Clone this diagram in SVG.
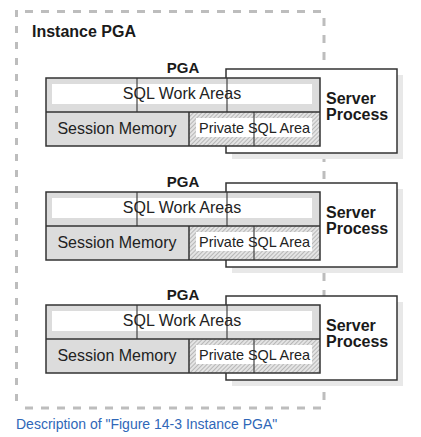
<svg xmlns="http://www.w3.org/2000/svg" width="421" height="437" viewBox="0 0 421 437">
<defs>
<pattern id="hatch" width="3" height="3" patternUnits="userSpaceOnUse" patternTransform="rotate(45)">
<rect width="3" height="3" fill="#e4e4e4"/>
<line x1="0" y1="0" x2="0" y2="3" stroke="#8a8a8a" stroke-width="1"/>
</pattern>
</defs>
<style>
.dash{stroke:#bdbdbd;stroke-width:3;fill:none}
.ln{stroke:#333;stroke-width:1.5;fill:none}
.sp{stroke:#333;stroke-width:1.5;fill:#fff}
.thin{stroke:#444;stroke-width:1.2}
.b{font-family:"Liberation Sans",Arial,sans-serif;font-weight:bold;fill:#1a1a1a}
.r{font-family:"Liberation Sans",Arial,sans-serif;fill:#222}
.cap{font-family:"Liberation Sans",Arial,sans-serif;font-size:14px;fill:#2f67b8}
</style>
<rect width="421" height="437" fill="#fff"/>
<g id="instance-pga">
<line class="dash" x1="25" y1="11.5" x2="324" y2="11.5" stroke-dasharray="8 8"/>
<line class="dash" x1="25" y1="408" x2="324" y2="408" stroke-dasharray="8 8"/>
<line class="dash" x1="16.5" y1="10" x2="16.5" y2="408" stroke-dasharray="7 9"/>
<line class="dash" x1="324" y1="18" x2="324" y2="400" stroke-dasharray="8 9"/>
<text class="b" x="32" y="37" font-size="16">Instance PGA</text>
</g>
<g id="connectors"></g>
<g id="block1">
<g id="server-process-1">
<rect x="232" y="75" width="171" height="84" fill="#e8e8e8"/>
<rect x="226" y="69" width="171" height="84" class="sp"/>
<text class="b" x="326" y="104" font-size="16">Server</text>
<text class="b" x="326" y="120" font-size="16">Process</text>
</g>
<g id="pga-1">
<text class="b" x="183" y="73" font-size="15" text-anchor="middle">PGA</text>
<rect x="46" y="78" width="274" height="34" fill="#dcdcdc"/>
<rect x="52" y="84" width="260" height="20" fill="#fff"/>
<rect x="46" y="112" width="143" height="34" fill="#dcdcdc"/>
<rect x="189" y="112" width="131" height="34" fill="url(#hatch)"/>
<rect x="196" y="118" width="116" height="19" fill="#fff"/>
<line class="thin" x1="137" y1="78" x2="137" y2="112"/>
<line class="thin" x1="227" y1="78" x2="227" y2="112"/>
<line class="thin" x1="254" y1="112" x2="254" y2="146"/>
<line class="ln" x1="46" y1="112" x2="320" y2="112"/>
<line class="ln" x1="189" y1="112" x2="189" y2="146"/>
<rect x="46" y="78" width="274" height="68" class="ln"/>
<text class="r" x="182" y="99" font-size="16" text-anchor="middle">SQL Work Areas</text>
<text class="r" x="117" y="134" font-size="16" text-anchor="middle">Session Memory</text>
<text class="r" x="199" y="133" font-size="14.5" textLength="111" lengthAdjust="spacingAndGlyphs">Private SQL Area</text>
</g>
</g>
<g id="block2" transform="translate(0,114)">
<g id="server-process-2">
<rect x="232" y="75" width="171" height="84" fill="#e8e8e8"/>
<rect x="226" y="69" width="171" height="84" class="sp"/>
<text class="b" x="326" y="104" font-size="16">Server</text>
<text class="b" x="326" y="120" font-size="16">Process</text>
</g>
<g id="pga-2">
<text class="b" x="183" y="73" font-size="15" text-anchor="middle">PGA</text>
<rect x="46" y="78" width="274" height="34" fill="#dcdcdc"/>
<rect x="52" y="84" width="260" height="20" fill="#fff"/>
<rect x="46" y="112" width="143" height="34" fill="#dcdcdc"/>
<rect x="189" y="112" width="131" height="34" fill="url(#hatch)"/>
<rect x="196" y="118" width="116" height="19" fill="#fff"/>
<line class="thin" x1="137" y1="78" x2="137" y2="112"/>
<line class="thin" x1="227" y1="78" x2="227" y2="112"/>
<line class="thin" x1="254" y1="112" x2="254" y2="146"/>
<line class="ln" x1="46" y1="112" x2="320" y2="112"/>
<line class="ln" x1="189" y1="112" x2="189" y2="146"/>
<rect x="46" y="78" width="274" height="68" class="ln"/>
<text class="r" x="182" y="99" font-size="16" text-anchor="middle">SQL Work Areas</text>
<text class="r" x="117" y="134" font-size="16" text-anchor="middle">Session Memory</text>
<text class="r" x="199" y="133" font-size="14.5" textLength="111" lengthAdjust="spacingAndGlyphs">Private SQL Area</text>
</g>
</g>
<g id="block3" transform="translate(0,227)">
<g id="server-process-3">
<rect x="232" y="75" width="171" height="84" fill="#e8e8e8"/>
<rect x="226" y="69" width="171" height="84" class="sp"/>
<text class="b" x="326" y="104" font-size="16">Server</text>
<text class="b" x="326" y="120" font-size="16">Process</text>
</g>
<g id="pga-3">
<text class="b" x="183" y="73" font-size="15" text-anchor="middle">PGA</text>
<rect x="46" y="78" width="274" height="34" fill="#dcdcdc"/>
<rect x="52" y="84" width="260" height="20" fill="#fff"/>
<rect x="46" y="112" width="143" height="34" fill="#dcdcdc"/>
<rect x="189" y="112" width="131" height="34" fill="url(#hatch)"/>
<rect x="196" y="118" width="116" height="19" fill="#fff"/>
<line class="thin" x1="137" y1="78" x2="137" y2="112"/>
<line class="thin" x1="227" y1="78" x2="227" y2="112"/>
<line class="thin" x1="254" y1="112" x2="254" y2="146"/>
<line class="ln" x1="46" y1="112" x2="320" y2="112"/>
<line class="ln" x1="189" y1="112" x2="189" y2="146"/>
<rect x="46" y="78" width="274" height="68" class="ln"/>
<text class="r" x="182" y="99" font-size="16" text-anchor="middle">SQL Work Areas</text>
<text class="r" x="117" y="134" font-size="16" text-anchor="middle">Session Memory</text>
<text class="r" x="199" y="133" font-size="14.5" textLength="111" lengthAdjust="spacingAndGlyphs">Private SQL Area</text>
</g>
</g>
<text class="cap" x="16" y="429">Description of "Figure 14-3 Instance PGA"</text>
</svg>
